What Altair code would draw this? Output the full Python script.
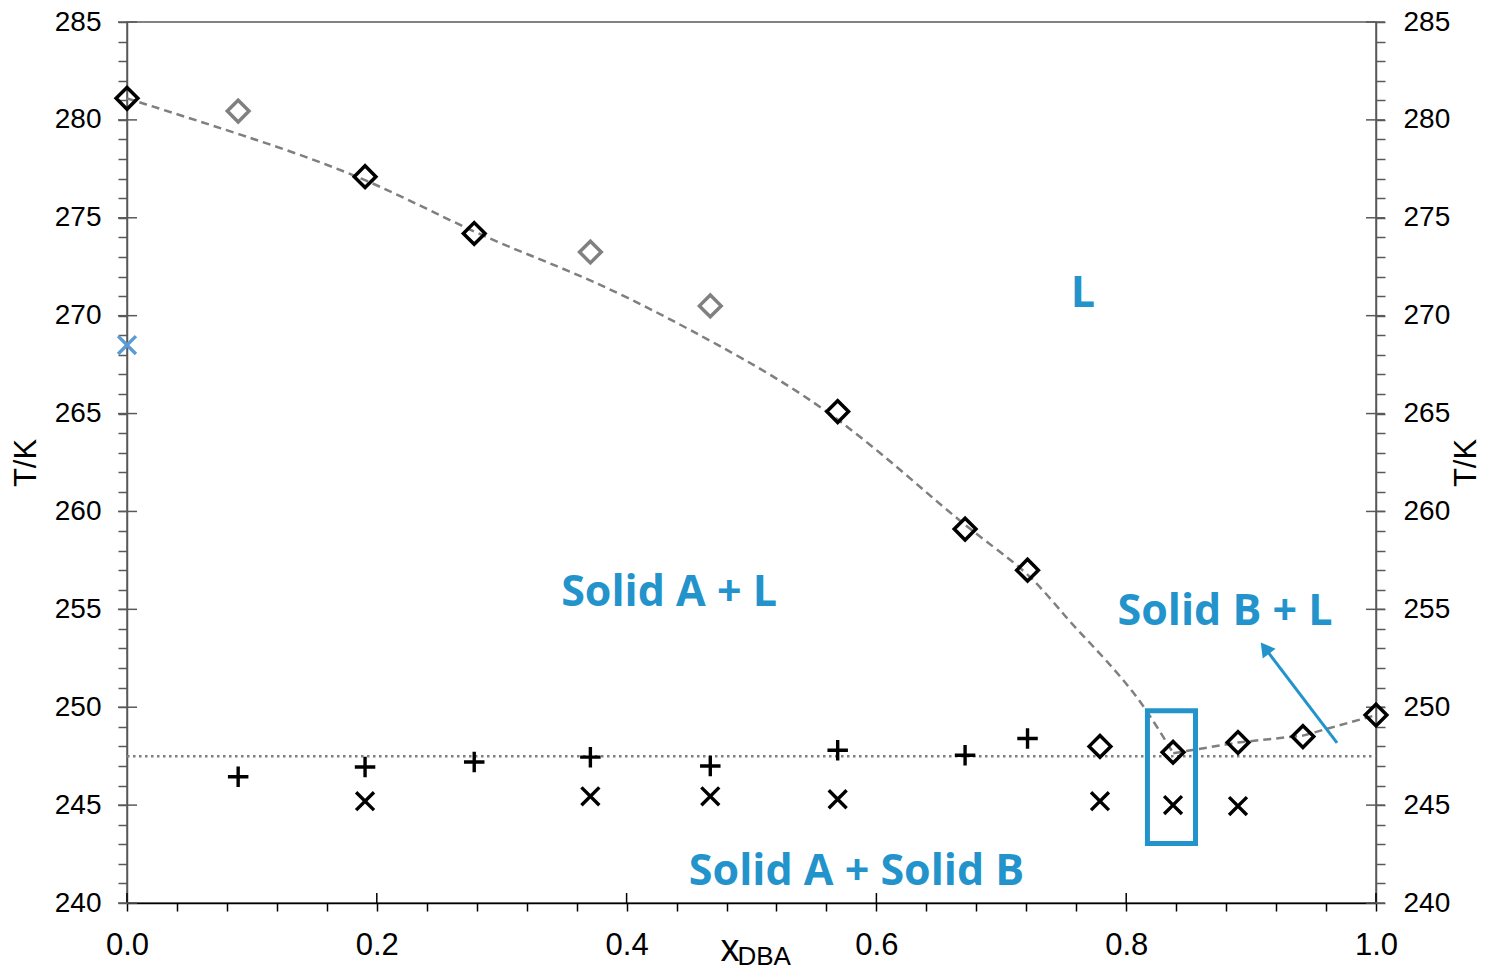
import altair as alt
import pandas as pd

# ---------------- data ----------------
liq_x = [0.0, 0.1906, 0.278, 0.569, 0.671, 0.721, 0.779, 0.8375, 0.8895, 0.9415, 1.0]
liq_T = [281.1, 277.1, 274.2, 265.1, 259.1, 257.0, 248.0, 247.7, 248.2, 248.5, 249.6]

gray_x = [0.089, 0.371, 0.467]
gray_T = [280.45, 273.25, 270.5]

plus_x = [0.089, 0.1906, 0.278, 0.371, 0.467, 0.569, 0.671, 0.721]
plus_T = [246.45, 246.95, 247.2, 247.45, 247.0, 247.8, 247.55, 248.4]

cross_x = [0.1906, 0.371, 0.467, 0.569, 0.779, 0.8375, 0.8895]
cross_T = [245.2, 245.45, 245.45, 245.3, 245.2, 245.0, 244.95]

blue_x = [0.0]
blue_T = [268.5]

# dashed liquidus curve
curveA_x = [0.0, 0.0894, 0.1906, 0.2776, 0.3467, 0.4003, 0.4668, 0.5682, 0.6709,
            0.7203, 0.7524, 0.779, 0.8004, 0.8164, 0.8377]
curveA_T = [281.1, 279.3, 277.1, 274.2, 272.5, 270.97, 268.76, 265.1, 259.14,
            257.06, 254.5, 252.76, 251.2, 249.86, 247.65]
curveB_x = [0.8377, 0.8895, 0.9415, 1.0]
curveB_T = [247.65, 248.2, 248.55, 249.6]

eutectic_T = 247.5

box_x = [0.817, 0.8555]
box_T = [243.04, 249.82]

arrow_x = [0.9688, 0.9111]
arrow_T = [248.18, 253.02]

labels_text = ["L", "Solid A + L", "Solid B + L", "Solid A + Solid B"]
labels_x = [0.7654, 0.434, 0.8791, 0.5841]
labels_T = [270.44, 255.17, 254.20, 240.92]

x_major = [0.0, 0.2, 0.4, 0.6, 0.8, 1.0]
x_minor = [round(i * 0.04, 2) for i in range(26)]
y_major = list(range(240, 286, 5))
y_minor = list(range(240, 286))

# ---------------- layout ----------------
W, H = 1249, 881
BLUE = "#2393CC"
FONT = "Liberation Sans"
AXC = "#595959"

xs = alt.Scale(domain=[0, 1], nice=False, zero=False)
ys = alt.Scale(domain=[240, 285], nice=False, zero=False)


def X(f="x", axis=None):
    return alt.X(f"{f}:Q", scale=xs, axis=axis)


def Y(f="T", axis=None):
    return alt.Y(f"{f}:Q", scale=ys, axis=axis)


x_axis = alt.Axis(
    values=x_minor,
    labelExpr="abs(datum.value*5 - round(datum.value*5)) < 0.001 ? format(datum.value, '.1f') : ''",
    tickSize=8, tickColor="black", tickWidth=1.5,
    domainColor="black", domainWidth=1.5,
    labelFont=FONT, labelFontSize=31, labelColor="black", labelPadding=19,
    labelFlush=False, labelOverlap=False, labelBound=False,
    grid=False, title=None,
)


def y_axis(orient):
    return alt.Axis(
        orient=orient,
        values=y_minor,
        labelExpr="datum.value % 5 === 0 ? datum.label : ''",
        tickSize=9, tickColor=AXC, tickWidth=1.5,
        domainColor=AXC, domainWidth=1.5,
        labelFont=FONT, labelFontSize=28, labelColor="black",
        labelPadding=17 if orient == "left" else 18,
        labelFlush=False, labelOverlap=False, labelBound=False,
        grid=False,
        title="T/K", titleFont=FONT, titleFontSize=31, titleFontWeight="normal",
        titleColor="black", titlePadding=12 if orient == "left" else 33,
        titleAngle=270,
    )


# axis-carrying layers (major ticks drawn inward / crossing)
xmaj = pd.DataFrame({"x": x_major})
ymaj = pd.DataFrame({"T": y_major})

x_ticks = alt.Chart(xmaj).mark_rule(color="black", strokeWidth=1.5).encode(
    x=X("x", x_axis), y=alt.value(H), y2=alt.value(H - 10)
)
yl_ticks = alt.Chart(ymaj).mark_rule(color=AXC, strokeWidth=1.5).encode(
    y=Y("T", y_axis("left")), x=alt.value(-9), x2=alt.value(10)
)
yr_ticks = alt.Chart(ymaj).mark_rule(color=AXC, strokeWidth=1.5).encode(
    y=Y("T", y_axis("right")), x=alt.value(W - 10), x2=alt.value(W + 9)
)

eut = alt.Chart(pd.DataFrame({"x": [0.0, 1.0], "T": [eutectic_T, eutectic_T]})).mark_line(
    color="#7F7F7F", strokeDash=[2.5, 3.5], strokeWidth=2.5
).encode(x=X(), y=Y())

curveA = alt.Chart(pd.DataFrame({"x": curveA_x, "T": curveA_T})).mark_line(
    color="#7F7F7F", strokeDash=[8, 5], strokeWidth=2.5, interpolate="basis"
).encode(x=X(), y=Y())
curveB = alt.Chart(pd.DataFrame({"x": curveB_x, "T": curveB_T})).mark_line(
    color="#7F7F7F", strokeDash=[8, 5], strokeWidth=2.5
).encode(x=X(), y=Y())

diam = alt.Chart(pd.DataFrame({"x": liq_x, "T": liq_T})).mark_point(
    shape="diamond", size=470, filled=False, color="black", strokeWidth=3.5, opacity=1
).encode(x=X(), y=Y())
gdiam = alt.Chart(pd.DataFrame({"x": gray_x, "T": gray_T})).mark_point(
    shape="diamond", size=470, filled=False, color="#808080", strokeWidth=3.5, opacity=1
).encode(x=X(), y=Y())

PLUS = "M-1,0L1,0M0,-1L0,1"
CROSS = "M-1,-1L1,1M-1,1L1,-1"
plus = alt.Chart(pd.DataFrame({"x": plus_x, "T": plus_T})).mark_point(
    shape=PLUS, size=420, filled=False, color="black", strokeWidth=3.4, opacity=1
).encode(x=X(), y=Y())
cross = alt.Chart(pd.DataFrame({"x": cross_x, "T": cross_T})).mark_point(
    shape=CROSS, size=320, filled=False, color="black", strokeWidth=3.4, opacity=1
).encode(x=X(), y=Y())
bcross = alt.Chart(pd.DataFrame({"x": blue_x, "T": blue_T})).mark_point(
    shape=CROSS, size=320, filled=False, color="#5B9BD5", strokeWidth=3.4, opacity=1
).encode(x=X(), y=Y())

box = alt.Chart(pd.DataFrame({"x": [box_x[0]], "x2": [box_x[1]], "T": [box_T[0]], "T2": [box_T[1]]})).mark_rect(
    filled=False, stroke=BLUE, strokeWidth=5
).encode(x=X(), x2="x2:Q", y=Y(), y2="T2:Q")

arrow_line = alt.Chart(pd.DataFrame({"x": arrow_x, "T": arrow_T})).mark_line(
    color=BLUE, strokeWidth=3
).encode(x=X(), y=Y())
arrow_head = alt.Chart(pd.DataFrame({"x": [arrow_x[1]], "T": [arrow_T[1]]})).mark_point(
    shape="triangle-up", size=260, filled=True, color=BLUE, opacity=1, angle=323
).encode(x=X(), y=Y())

labels = alt.Chart(pd.DataFrame({"x": labels_x, "T": labels_T, "t": labels_text})).mark_text(
    font="Open Sans", fontWeight="bold", fontSize=43, color=BLUE,
    align="center", baseline="alphabetic"
).encode(x=X(), y=Y(), text="t:N")

xt1 = alt.Chart(pd.DataFrame({"x": [0.5], "t": ["x"]})).mark_text(
    font=FONT, fontSize=38, color="black", align="right", baseline="alphabetic", dx=-12
).encode(x=X(), y=alt.value(939), text="t:N")
xt2 = alt.Chart(pd.DataFrame({"x": [0.5], "t": ["DBA"]})).mark_text(
    font=FONT, fontSize=26, color="black", align="left", baseline="alphabetic", dx=-14
).encode(x=X(), y=alt.value(943), text="t:N")

chart = alt.layer(
    x_ticks, yl_ticks, yr_ticks, eut, curveA, curveB, diam, gdiam, plus, cross, bcross,
    box, arrow_line, arrow_head, labels, xt1, xt2,
).resolve_axis(y="independent", x="independent").properties(
    width=W, height=H,
    autosize=alt.AutoSizeParams(type="none"),
    padding={"left": 119, "top": 14, "right": 106, "bottom": 68},
).configure_view(stroke=AXC, strokeWidth=1.5)

chart.save("out.html", embed_options={"renderer": "svg", "actions": False})
